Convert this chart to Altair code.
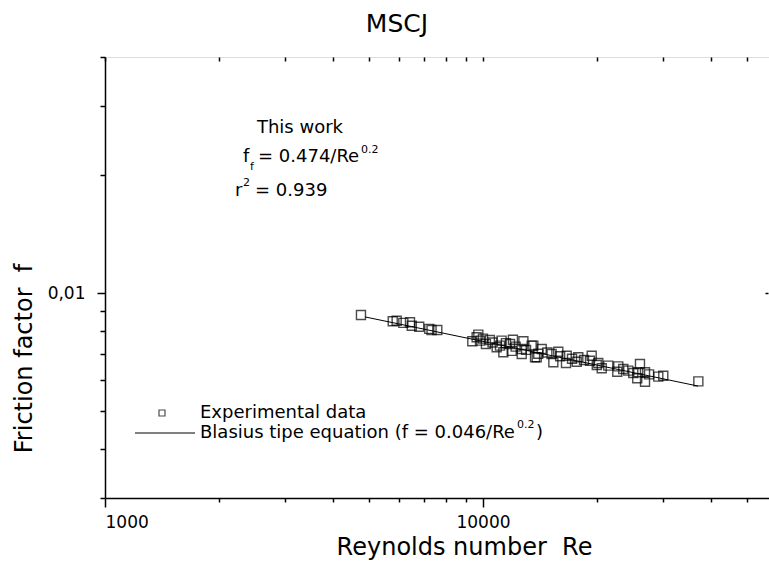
import altair as alt
import pandas as pd

# ---- data ----
re_exp = [4755, 5770, 5910, 6155, 6410, 6480, 6780, 7210, 7310, 7570,
          9370, 9620, 9720, 9820, 10000, 10180, 10430, 10600, 10870, 11090,
          11200, 11320, 11500, 11790, 11910, 12000, 12200, 12660, 12660, 12790,
          13000, 13450, 13590, 13730, 13870, 14000, 14300, 14800, 15190, 15350,
          15820, 16000, 16580, 16650, 17200, 17700, 17870, 18500, 19190, 19390,
          20000, 20180, 20610, 21450, 22660, 22800, 23500, 24230, 24980, 25590,
          25750, 26020, 26830, 26830, 27500, 29090, 29990, 37130]
f_exp = [0.00879, 0.00847, 0.00850, 0.00839, 0.00842, 0.00825, 0.00820, 0.00810, 0.00805, 0.00805,
         0.00753, 0.00771, 0.00783, 0.00756, 0.00765, 0.00741, 0.00759, 0.00748, 0.00727, 0.00734,
         0.00756, 0.00706, 0.00745, 0.00741, 0.00712, 0.00760, 0.00730, 0.00720, 0.00699, 0.00753,
         0.00716, 0.00734, 0.00734, 0.00686, 0.00686, 0.00700, 0.00720, 0.00705, 0.00699, 0.00666,
         0.00708, 0.00690, 0.00663, 0.00692, 0.00680, 0.00668, 0.00686, 0.00675, 0.00672, 0.00692,
         0.00655, 0.00663, 0.00643, 0.00653, 0.00630, 0.00650, 0.00640, 0.00634, 0.00625, 0.00606,
         0.00628, 0.00659, 0.00628, 0.00594, 0.00620, 0.00612, 0.00615, 0.00595]

blasius_re = [4876, 37060]
blasius_f = [0.00869, 0.00579]

x_ticks = [1000, 2000, 3000, 4000, 5000, 6000, 7000, 8000, 9000,
           10000, 20000, 30000, 40000, 50000]
y_ticks = [0.003, 0.004, 0.005, 0.006, 0.007, 0.008, 0.009, 0.01, 0.02, 0.03, 0.04]

FONT = "DejaVu Sans"
NB = "\u00a0"

exp_df = pd.DataFrame({"Re": re_exp, "f": f_exp})
bl_df = pd.DataFrame({"Re": blasius_re, "f": blasius_f})

xscale = alt.Scale(type="log", domain=[1000, 57100], nice=False)
yscale = alt.Scale(type="log", domain=[0.003, 0.04], nice=False)

major_x = "datum.value == 1000 || datum.value == 10000"
x_axis = alt.Axis(
    values=x_ticks, format="d",
    labelExpr=f"{major_x} ? datum.label : ''",
    tickSize={"condition": {"test": major_x, "value": 9}, "value": 4},
    labelPadding=7, labelFontSize=17, labelFont=FONT, labelColor="black",
    grid=False, domainColor="black", domainWidth=1.5, tickColor="black", tickWidth=1.5,
    title=f"Reynolds number{NB}{NB}Re", titleFont=FONT, titleFontSize=24, titleFontWeight="normal",
    titleColor="black", titleX=359, titleY=49, titleAlign="center", titleBaseline="middle",
)
x_top = alt.Axis(
    orient="top", values=x_ticks, labels=False, title=None, domain=False, grid=False,
    tickSize=4, tickColor="black", tickWidth=1.5, offset=-4,
)
major_y = "abs(datum.value - 0.01) < 1e-9"
y_axis = alt.Axis(
    values=y_ticks,
    labelExpr=f"{major_y} ? '0,01' : ''",
    tickSize={"condition": {"test": major_y, "value": 8}, "value": 5},
    labelPadding=12, labelFontSize=17, labelFont=FONT, labelColor="black",
    grid=False, domainColor="black", domainWidth=1.5, tickColor="black", tickWidth=1.5,
    title=f"Friction factor{NB}{NB}f", titleFont=FONT, titleFontSize=24, titleFontWeight="normal",
    titleColor="black", titleX=-81, titleY=301, titleAngle=270,
    titleAlign="center", titleBaseline="middle",
)
y_right = alt.Axis(
    orient="right", values=[0.01], labels=False, title=None, domain=False, grid=False,
    tickSize=3, tickColor="black", tickWidth=1.5, offset=-4,
)

points = alt.Chart(exp_df).mark_point(
    shape="square", filled=False, color="black", size=81, strokeWidth=1.4
).encode(
    x=alt.X("Re:Q", scale=xscale, axis=x_axis),
    y=alt.Y("f:Q", scale=yscale, axis=y_axis),
)

line = alt.Chart(bl_df).mark_line(color="black", strokeWidth=1).encode(
    x=alt.X("Re:Q", scale=xscale, axis=x_top),
    y=alt.Y("f:Q", scale=yscale, axis=y_right),
)

one = pd.DataFrame({"k": [0]})


def txt(s, x, y, size=18, align="left"):
    return alt.Chart(one).mark_text(
        text=s, font=FONT, fontSize=size, color="black", align=align, baseline="middle"
    ).encode(x=alt.value(x), y=alt.value(y))


annots = [
    txt("MSCJ", 292, -33, 25, "center"),
    txt("This work", 195, 71, 18, "center"),
    txt("f", 138, 100),
    txt("f", 145, 110, 11),
    txt("= 0.474/Re", 153, 100),
    txt("0.2", 256, 93, 11),
    txt("r", 130, 134),
    txt("2", 138, 126, 11),
    txt("= 0.939", 150, 134),
    # legend
    txt("Experimental data", 95, 356),
    txt("Blasius tipe equation (f = 0.046/Re", 95, 376),
    txt("0.2", 412, 368, 11),
    txt(")", 431, 376),
]

leg_sq = alt.Chart(one).mark_point(
    shape="square", filled=False, color="black", size=36, strokeWidth=1.2
).encode(x=alt.value(57), y=alt.value(356))
leg_ln = alt.Chart(one).mark_rule(color="black", strokeWidth=1).encode(
    x=alt.value(30), x2=alt.value(90), y=alt.value(376)
)

chart = alt.layer(points, line, leg_sq, leg_ln, *annots).resolve_axis(
    x="independent", y="independent"
).properties(
    width=664, height=441,
    autosize=alt.AutoSizeParams(type="none"),
    padding={"left": 105, "top": 57, "right": 0, "bottom": 74},
).configure_view(stroke="black", strokeWidth=1.5).configure(background="white")

chart.save("out.html", embed_options={"renderer": "svg", "actions": False})
